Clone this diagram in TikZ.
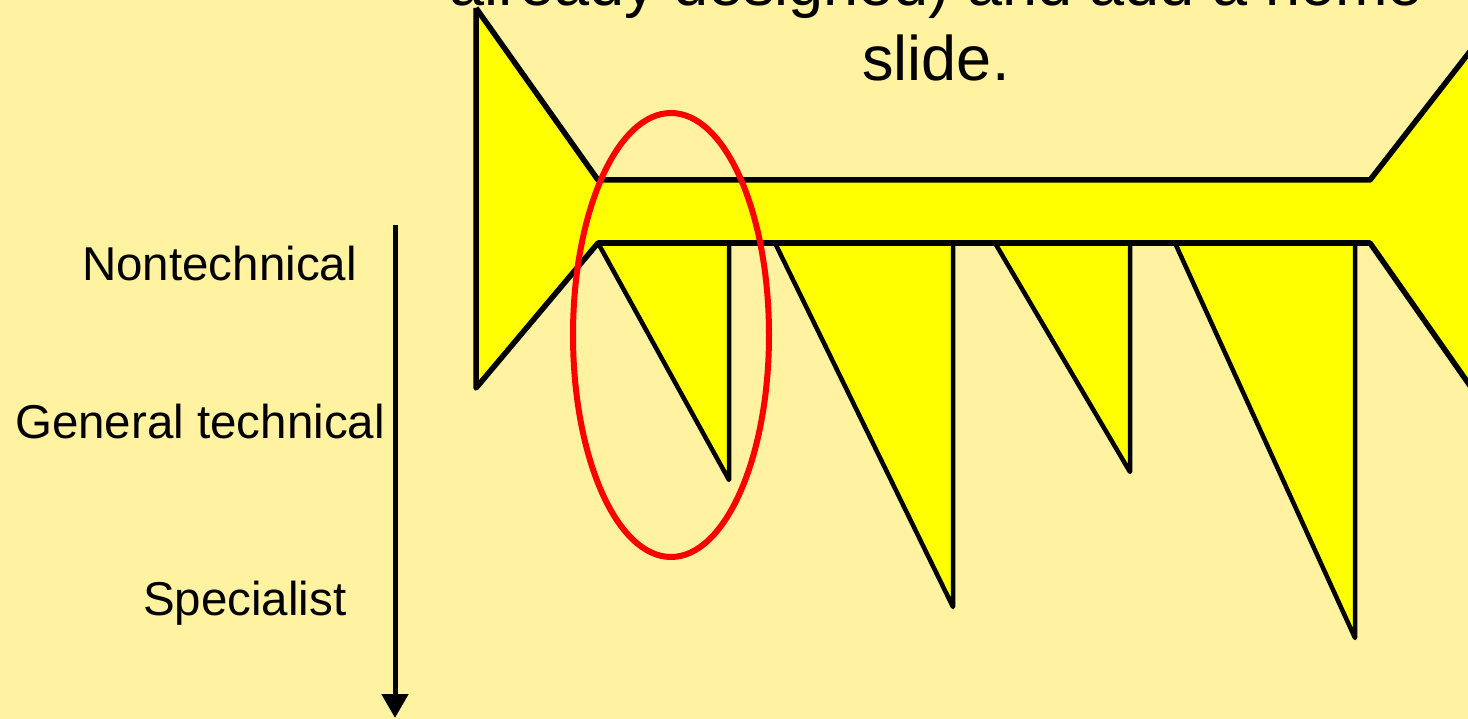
\documentclass[tikz,border=0pt]{standalone}
\usepackage{fontspec}
\setmainfont{Liberation Sans}
\usetikzlibrary{arrows.meta}
\definecolor{slidebg}{HTML}{FFF2A1}
\definecolor{boneyellow}{HTML}{FFFF00}
\begin{document}
\begin{tikzpicture}[x=1pt, y=-1pt, >=Latex,
    lab/.style={inner sep=0pt, anchor=base west, font=\fontsize{47.5}{57}\selectfont},
    title/.style={inner sep=0pt, anchor=base, font=\fontsize{63}{75}\selectfont},
    outline/.style={line width=5.5pt, line join=round}]
    % Nen va khung
    \useasboundingbox (0,0) rectangle (1468,719);
    \fill[slidebg] (0,0) rectangle (1468,719);
    \clip (0,0) rectangle (1468,719);

    % Tieu de bi cat phia tren
    \node[title] (line1) at (936,6) {already designed) and add a home};
    \node[title] (line2) at (936,81) {slide.};

    % Than xuong: hai dau loe va thanh ngang
    \fill[boneyellow] (476,8) -- (598,180) -- (1370,180) -- (1510,0) -- (1520,0)
        -- (1520,457) -- (1370,243) -- (598,243) -- (476,388) -- cycle;
    \draw[outline] (476,8) -- (598,180) -- (1370,180) -- (1510,0);
    \draw[outline] (476,8) -- (476,388) -- (598,243) -- (1370,243) -- (1520,457);

    % Cac rang cua
    \filldraw[fill=boneyellow, line width=4.5pt, line join=round] (598,243) -- (729,480) -- (729,243);
    \filldraw[fill=boneyellow, line width=4.5pt, line join=round] (775,243) -- (953,607) -- (953,243);
    \filldraw[fill=boneyellow, line width=4.5pt, line join=round] (995,243) -- (1130,472) -- (1130,243);
    \filldraw[fill=boneyellow, line width=4.5pt, line join=round] (1175,243) -- (1355,638) -- (1355,243);
    \draw[outline] (598,243) -- (1370,243);

    % Vong elip do
    \draw[red, line width=6pt] (671,335) ellipse [x radius=98, y radius=222];

    % Nhan muc do va mui ten
    \node[lab] (nontech) at (82,281) {Nontechnical};
    \node[lab] (gentech) at (15,438) {General technical};
    \node[lab] (spec) at (143,615) {Specialist};
    \coordinate (atop) at (395,225);
    \coordinate (abot) at (395,718);
    \draw[line width=5pt, -{Triangle[width=26pt, length=24pt]}] (atop) -- (abot);
\end{tikzpicture}
\end{document}
